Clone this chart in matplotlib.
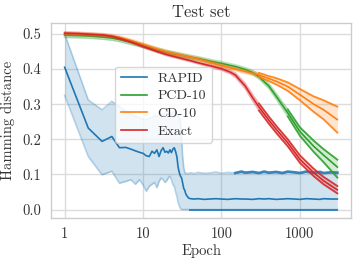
import numpy as np
import matplotlib
matplotlib.use("Agg")
import matplotlib.pyplot as plt
from matplotlib.ticker import FixedLocator, FuncFormatter, NullLocator

plt.rcParams['font.family'] = ['cmr10', 'DejaVu Serif']
plt.rcParams['mathtext.fontset'] = 'cm'
plt.rcParams['axes.formatter.use_mathtext'] = True

# ---------------- data ----------------
epochs = [1, 1.5, 2, 3, 4, 5, 7, 10, 15, 20, 30, 40, 50, 70, 100, 130, 150, 200,
          250, 300, 400, 500, 700, 1000, 1500, 2000, 3000]

pcd_mean = [0.496, 0.495, 0.494, 0.491, 0.488, 0.484, 0.476, 0.466, 0.455, 0.448,
            0.440, 0.434, 0.430, 0.423, 0.416, 0.410, 0.407, 0.399, 0.390, 0.378,
            0.352, 0.322, 0.275, 0.222, 0.180, 0.155, 0.121]
pcd_lo = [0.490, 0.489, 0.488, 0.485, 0.482, 0.478, 0.470, 0.461, 0.450, 0.443,
          0.435, 0.429, 0.425, 0.418, 0.411, 0.405, 0.402, 0.394, 0.384, 0.372,
          0.345, 0.314, 0.265, 0.210, 0.164, 0.135, 0.091]
pcd_hi = [0.500, 0.499, 0.498, 0.496, 0.493, 0.489, 0.481, 0.471, 0.460, 0.453,
          0.445, 0.439, 0.435, 0.428, 0.421, 0.415, 0.412, 0.404, 0.396, 0.384,
          0.359, 0.330, 0.285, 0.234, 0.196, 0.172, 0.142]

cd_mean = [0.501, 0.500, 0.499, 0.497, 0.494, 0.490, 0.481, 0.470, 0.457, 0.449,
           0.440, 0.434, 0.429, 0.420, 0.410, 0.403, 0.400, 0.393, 0.388, 0.383,
           0.373, 0.365, 0.350, 0.327, 0.300, 0.284, 0.256]
cd_lo = [0.497, 0.496, 0.495, 0.493, 0.490, 0.486, 0.477, 0.466, 0.453, 0.445,
         0.436, 0.430, 0.425, 0.416, 0.406, 0.399, 0.396, 0.388, 0.383, 0.377,
         0.366, 0.356, 0.338, 0.311, 0.278, 0.257, 0.219]
cd_hi = [0.505, 0.504, 0.503, 0.501, 0.498, 0.494, 0.485, 0.474, 0.461, 0.453,
         0.444, 0.438, 0.433, 0.424, 0.414, 0.407, 0.404, 0.398, 0.393, 0.389,
         0.380, 0.374, 0.362, 0.343, 0.322, 0.311, 0.293]

exact_mean = [0.502, 0.501, 0.499, 0.497, 0.493, 0.487, 0.477, 0.464, 0.450, 0.441,
              0.431, 0.424, 0.418, 0.410, 0.401, 0.391, 0.383, 0.352, 0.318, 0.292,
              0.255, 0.228, 0.190, 0.143, 0.105, 0.082, 0.056]
exact_lo = [0.499, 0.498, 0.496, 0.494, 0.490, 0.484, 0.474, 0.461, 0.447, 0.438,
            0.428, 0.421, 0.415, 0.406, 0.397, 0.386, 0.377, 0.344, 0.309, 0.282,
            0.245, 0.218, 0.180, 0.133, 0.095, 0.072, 0.046]
exact_hi = [0.505, 0.504, 0.502, 0.500, 0.496, 0.490, 0.480, 0.467, 0.453, 0.444,
            0.434, 0.427, 0.421, 0.414, 0.405, 0.396, 0.389, 0.360, 0.327, 0.302,
            0.265, 0.238, 0.200, 0.154, 0.116, 0.093, 0.067]

rapid_epochs = [1, 2, 3, 4, 5, 6, 7, 8, 9, 10, 11, 12, 13, 14, 15, 16, 17, 18, 19,
                20, 21, 22, 23, 24, 25, 26, 27, 28, 29, 30, 31, 32, 33, 34, 35, 36,
                38, 40, 45, 50, 60, 70, 85, 100, 120, 150, 180, 200, 250, 300, 350,
                400, 500, 600, 700, 850, 1000, 1200, 1500, 1800, 2000, 2500, 3000]
rapid_mean = [0.405, 0.232, 0.194, 0.208, 0.176, 0.177, 0.172, 0.167, 0.163, 0.160,
              0.153, 0.151, 0.166, 0.160, 0.170, 0.151, 0.168, 0.176, 0.163, 0.166,
              0.161, 0.170, 0.162, 0.172, 0.176, 0.165, 0.150, 0.120, 0.105, 0.095,
              0.090, 0.075, 0.060, 0.055, 0.045, 0.040, 0.033, 0.031, 0.030, 0.031,
              0.029, 0.030, 0.031, 0.030, 0.029, 0.031, 0.030, 0.030, 0.029, 0.031,
              0.030, 0.031, 0.029, 0.030, 0.031, 0.030, 0.029, 0.031, 0.030, 0.029,
              0.031, 0.030, 0.030]
rapid_lo = [0.325, 0.151, 0.099, 0.109, 0.075, 0.080, 0.085, 0.072, 0.085, 0.070,
            0.052, 0.066, 0.072, 0.077, 0.062, 0.080, 0.090, 0.085, 0.077, 0.082,
            0.090, 0.095, 0.085, 0.071, 0.066, 0.050, 0.038, 0.020, 0.010, 0.003,
            0.000, 0.000, 0.000, 0.000, 0.000, 0.000, 0.000, 0.000, 0.000, 0.000,
            0.000, 0.000, 0.000, 0.000, 0.000, 0.000, 0.000, 0.000, 0.000, 0.000,
            0.000, 0.000, 0.000, 0.000, 0.000, 0.000, 0.000, 0.000, 0.000, 0.000,
            0.000, 0.000, 0.000]
rapid_hi = [0.500, 0.312, 0.284, 0.308, 0.293, 0.280, 0.272, 0.266, 0.262, 0.258,
            0.255, 0.260, 0.262, 0.268, 0.265, 0.270, 0.272, 0.268, 0.275, 0.270,
            0.272, 0.276, 0.270, 0.278, 0.280, 0.278, 0.275, 0.268, 0.260, 0.250,
            0.200, 0.150, 0.120, 0.106, 0.102, 0.104, 0.101, 0.105, 0.102, 0.106,
            0.103, 0.104, 0.107, 0.103, 0.106, 0.104, 0.108, 0.105, 0.107, 0.104,
            0.108, 0.105, 0.107, 0.104, 0.108, 0.106, 0.104, 0.108, 0.105, 0.107,
            0.104, 0.106, 0.105]

series = [
    # name, colour, x, mean, low, high, dark-upper-from, dark-lower-from
    ("RAPID", "#1f77b4", rapid_epochs, rapid_mean, rapid_lo, rapid_hi, 130, 40),
    ("PCD-10", "#2ca02c", epochs, pcd_mean, pcd_lo, pcd_hi, 600, 600),
    ("CD-10", "#ff7f0e", epochs, cd_mean, cd_lo, cd_hi, 300, 300),
    ("Exact", "#d62728", epochs, exact_mean, exact_lo, exact_hi, 300, 300),
]

xticks = [1, 10, 100, 1000]
yticks = [0.0, 0.1, 0.2, 0.3, 0.4, 0.5]

# ---------------- plot ----------------
fig = plt.figure(figsize=(3.57, 2.64), dpi=100)
ax = fig.add_axes([51 / 357, 1 - 218 / 264, 300 / 357, 195 / 264])
ax.set_facecolor("white")

for name, c, x, m, lo, hi, dhi, dlo in series:
    x = np.asarray(x, float)
    m = np.asarray(m); lo = np.asarray(lo); hi = np.asarray(hi)
    ax.fill_between(x, lo, hi, color=c, alpha=0.2, lw=0)
    ax.plot(x, lo, color=c, alpha=0.3, lw=1.2)
    ax.plot(x, hi, color=c, alpha=0.3, lw=1.2)
    s1 = x >= dhi
    s2 = x >= dlo
    ax.plot(x[s1], hi[s1], color=c, alpha=0.85, lw=2.0 if name == "RAPID" else 1.3)
    ax.plot(x[s2], lo[s2], color=c, alpha=0.85, lw=1.4 if name == "RAPID" else 1.3)
    ax.plot(x, m, color=c, lw=1.2, label=name)

ax.set_xscale("log")
ax.set_xlim(0.67, 4480)
ax.set_ylim(-0.024, 0.531)
ax.xaxis.set_major_locator(FixedLocator(xticks))
ax.xaxis.set_minor_locator(NullLocator())
ax.xaxis.set_major_formatter(FuncFormatter(lambda v, p: f"{int(round(v))}"))
ax.yaxis.set_major_locator(FixedLocator(yticks))
ax.yaxis.set_major_formatter(FuncFormatter(lambda v, p: f"{v:.1f}"))

ax.grid(True, color="#dcdcdc", lw=1.0)
ax.set_axisbelow(True)
for s in ax.spines.values():
    s.set_color("#cccccc")
    s.set_linewidth(1.0)
ax.tick_params(length=0, labelsize=10.5, colors="#333333", pad=7)

ax.set_xlabel("Epoch", fontsize=10.5, color="#333333", labelpad=2)
ax.set_ylabel("Hamming distance", fontsize=10.5, color="#333333", labelpad=5)
ax.set_title("Test set", fontsize=12, color="#333333", pad=4)

leg = ax.legend(loc="center", bbox_to_anchor=(0.375, 0.58), fontsize=10,
                frameon=True, framealpha=0.8, edgecolor="#cccccc",
                labelspacing=0.35, handlelength=1.85, borderpad=0.4)
for t in leg.get_texts():
    t.set_color("#333333")

fig.savefig("out.png", dpi=100)
